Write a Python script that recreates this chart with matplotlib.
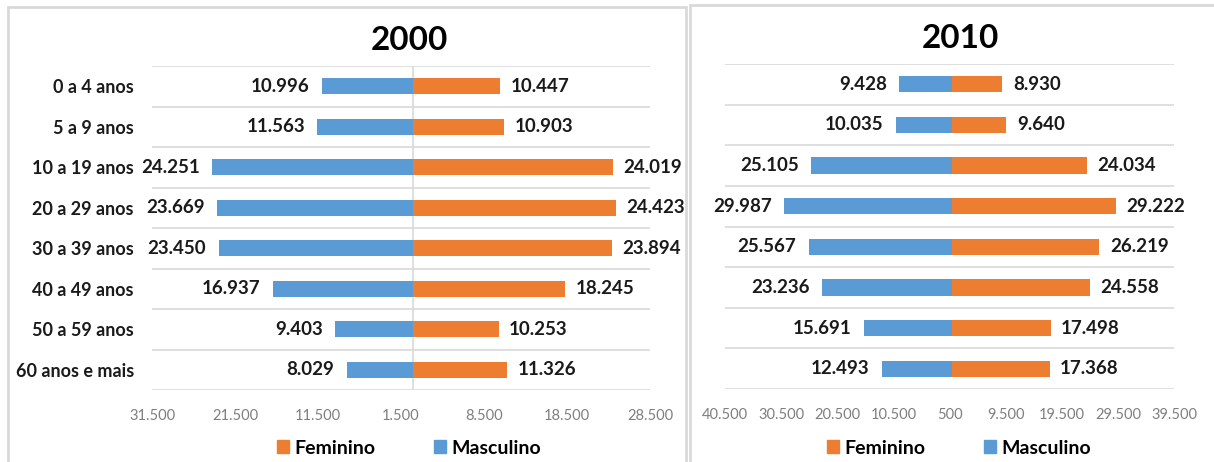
import numpy as np
import matplotlib.pyplot as plt
from matplotlib.patches import Patch, Rectangle
from matplotlib.ticker import FuncFormatter

plt.rcParams['font.family'] = ['Lato', 'DejaVu Sans']

faixas = ['0 a 4 anos', '5 a 9 anos', '10 a 19 anos', '20 a 29 anos',
          '30 a 39 anos', '40 a 49 anos', '50 a 59 anos', '60 anos e mais']

masc_2000 = [10996, 11563, 24251, 23669, 23450, 16937, 9403, 8029]
fem_2000  = [10447, 10903, 24019, 24423, 23894, 18245, 10253, 11326]

masc_2010 = [9428, 10035, 25105, 29987, 25567, 23236, 15691, 12493]
fem_2010  = [8930, 9640, 24034, 29222, 26219, 24558, 17498, 17368]

ticks_2000 = [-31500, -21500, -11500, -1500, 8500, 18500, 28500]
ticks_2010 = [-40500, -30500, -20500, -10500, -500, 9500, 19500, 29500, 39500]

AZUL = '#5B9BD5'
LARANJA = '#ED7D31'
GRADE = '#D9D9D9'

W, H = 1214, 462
fig = plt.figure(figsize=(W / 100, H / 100), dpi=100)


def px_axes(x0, x1, y0, y1):
    return fig.add_axes([x0 / W, 1 - y1 / H, (x1 - x0) / W, (y1 - y0) / H])


def fmt(v, pos):
    return '{:,}'.format(abs(int(round(v)))).replace(',', '.')


def piramide(ax, masc, fem, ticks, nomes):
    y = np.arange(len(faixas))
    ax.barh(y, [-m for m in masc], height=0.4, color=AZUL, zorder=3)
    ax.barh(y, fem, height=0.4, color=LARANJA, zorder=3)
    for yi, m, f in zip(y, masc, fem):
        ax.annotate(fmt(m, None), (-m, yi), xytext=(-9, 0), textcoords='offset points',
                    ha='right', va='center', fontsize=13.5, fontweight='bold', color='#1a1a1a')
        ax.annotate(fmt(f, None), (f, yi), xytext=(7.5, 0), textcoords='offset points',
                    ha='left', va='center', fontsize=13.5, fontweight='bold', color='#1a1a1a')
    ax.set_xlim(ticks[0], ticks[-1])
    ax.set_ylim(len(faixas) - 0.5, -0.5)
    ax.set_xticks(ticks)
    ax.xaxis.set_major_formatter(FuncFormatter(fmt))
    ax.tick_params(axis='x', length=0, pad=14, labelsize=10.5, labelcolor='#7F7F7F')
    ax.set_yticks(y)
    if nomes:
        ax.set_yticklabels(faixas, fontsize=13, fontweight='bold', color='#1a1a1a')
        ax.tick_params(axis='y', length=0, pad=13)
    else:
        ax.set_yticklabels([])
        ax.tick_params(axis='y', length=0)
    ax.set_yticks(np.arange(-0.5, len(faixas)), minor=True)
    ax.tick_params(axis='y', which='minor', length=0)
    ax.grid(which='minor', axis='y', color=GRADE, lw=1.2, zorder=0)
    for s in ax.spines.values():
        s.set_visible(False)
    ax.set_facecolor('none')


ax1 = px_axes(152, 650, 66, 390)
piramide(ax1, masc_2000, fem_2000, ticks_2000, True)
ax1.axvline(0, color=GRADE, lw=1.2, zorder=1)

ax2 = px_axes(725, 1174, 64, 389)
piramide(ax2, masc_2010, fem_2010, ticks_2010, False)

fig.text(409 / W, 1 - 41 / H, '2000', ha='center', va='center', fontsize=24, fontweight='bold')
fig.text(960 / W, 1 - 38 / H, '2010', ha='center', va='center', fontsize=24, fontweight='bold')

handles = [Patch(color=LARANJA, label='Feminino'), Patch(color=AZUL, label='Masculino')]
for cx in (409, 959):
    fig.legend(handles=handles, loc='center', bbox_to_anchor=(cx / W, 1 - 448 / H),
               ncol=2, frameon=False, handlelength=0.6, handleheight=0.6,
               handletextpad=0.3, columnspacing=3.0,
               prop={'size': 14, 'weight': 'bold'})

# molduras dos dois graficos
fig.add_artist(Rectangle((8 / W, -0.1), (686 - 8) / W, 1.1 - 7 / H, transform=fig.transFigure,
                         fill=False, edgecolor=GRADE, lw=2))
fig.add_artist(Rectangle((690 / W, -0.1), 0.5, 1.1 - 5 / H, transform=fig.transFigure,
                         fill=False, edgecolor=GRADE, lw=2))

fig.savefig('out.png', dpi=100)
